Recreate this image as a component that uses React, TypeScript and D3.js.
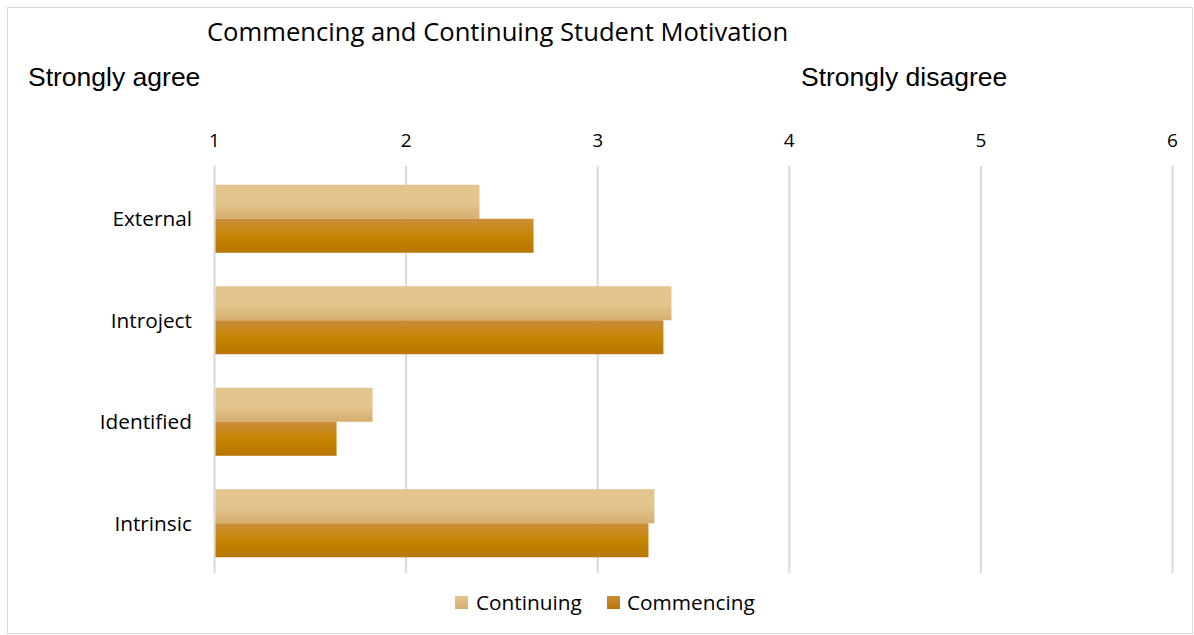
import React from "react";
import * as d3 from "d3";

const categories = ["External", "Introject", "Identified", "Intrinsic"];
const seriesNames = ["Continuing", "Commencing"];
const continuing = [2.383, 3.385, 1.825, 3.296];
const commencing = [2.665, 3.343, 1.637, 3.265];
const ticks = [1, 2, 3, 4, 5, 6];

const W = 1194;
const H = 635;
const font = "'Open Sans', 'Noto Sans', sans-serif";

export default function App() {
  const x = d3.scaleLinear().domain([1, 6]).range([214.5, 1172.5]);
  const y = d3
    .scaleBand<string>()
    .domain(categories)
    .range([168, 574])
    .paddingInner(0.33)
    .paddingOuter(0.165);
  const inner = d3.scaleBand<string>().domain(seriesNames).range([0, y.bandwidth()]);
  const values = [continuing, commencing];
  const fills = ["url(#gCont)", "url(#gComm)"];

  return (
    <svg width={W} height={H} style={{ position: "absolute", left: 0, top: 0 }}>
      <defs>
        <linearGradient id="gCont" x1="0" y1="0" x2="0" y2="1">
          <stop offset="0" stopColor="#E3C48C" />
          <stop offset="0.5" stopColor="#E3C68F" />
          <stop offset="1" stopColor="#D4AE6E" />
        </linearGradient>
        <linearGradient id="gComm" x1="0" y1="0" x2="0" y2="1">
          <stop offset="0" stopColor="#C98E3C" />
          <stop offset="0.5" stopColor="#C68502" />
          <stop offset="1" stopColor="#B87600" />
        </linearGradient>
        <linearGradient id="lgCont" x1="0" y1="0" x2="0" y2="1">
          <stop offset="0" stopColor="#E3C68F" />
          <stop offset="1" stopColor="#D4AE6E" />
        </linearGradient>
        <linearGradient id="lgComm" x1="0" y1="0" x2="0" y2="1">
          <stop offset="0" stopColor="#C98E3C" />
          <stop offset="1" stopColor="#B87600" />
        </linearGradient>
      </defs>
      <rect x={0} y={0} width={W} height={H} fill="#fff" />
      <rect x={7.5} y={7.5} width={1185} height={626} fill="#fff" stroke="#d9d9d9" strokeWidth={1} />

      <text x={207} y={41} fontFamily={font} fontSize={25.6} fill="#000">
        Commencing and Continuing Student Motivation
      </text>
      <text x={28} y={86} fontFamily="'Liberation Sans', Arial, sans-serif" fontSize={26.5} fill="#000">
        Strongly agree
      </text>
      <text x={801} y={86} fontFamily="'Liberation Sans', Arial, sans-serif" fontSize={26.5} fill="#000">
        Strongly disagree
      </text>

      {ticks.map((t) => (
        <g key={t}>
          <line x1={x(t)} x2={x(t)} y1={166} y2={573} stroke="#d9d9d9" strokeWidth={2} />
          <text x={x(t)} y={147} textAnchor="middle" fontFamily={font} fontSize={19} fill="#000">
            {t}
          </text>
        </g>
      ))}

      {categories.map((c, i) => (
        <g key={c}>
          {seriesNames.map((s, j) => (
            <rect
              key={s}
              x={x(1) + 1}
              y={(y(c) as number) + (inner(s) as number)}
              width={x(values[j][i]) - x(1) - 1}
              height={inner.bandwidth()}
              fill={fills[j]}
            />
          ))}
          <text
            x={192}
            y={(y(c) as number) + y.bandwidth() / 2}
            dy="0.35em"
            textAnchor="end"
            fontFamily={font}
            fontSize={20.8}
            fill="#000"
          >
            {c}
          </text>
        </g>
      ))}

      <g>
        <rect x={455} y={596} width={13} height={13} fill="url(#lgCont)" />
        <text x={476} y={610} fontFamily={font} fontSize={20.8} fill="#000">
          Continuing
        </text>
        <rect x={607} y={596} width={13} height={13} fill="url(#lgComm)" />
        <text x={627} y={610} fontFamily={font} fontSize={20.8} fill="#000">
          Commencing
        </text>
      </g>
    </svg>
  );
}
